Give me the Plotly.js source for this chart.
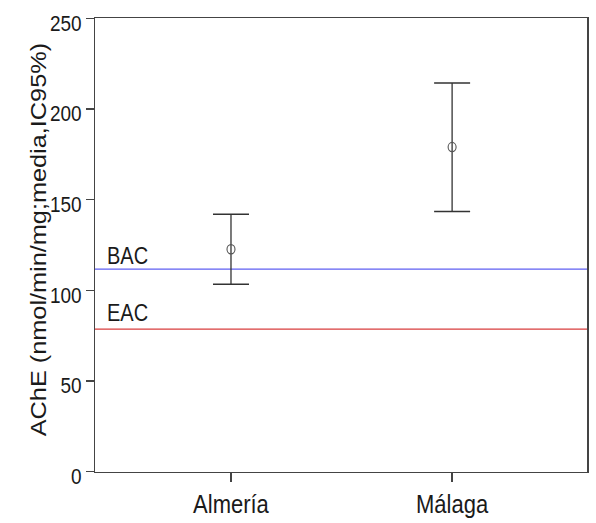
<!DOCTYPE html>
<html>
<head>
<meta charset="utf-8">
<script src="https://cdn.plot.ly/plotly-3.0.1.min.js"></script>
<style>
html,body{margin:0;padding:0;background:#fff;overflow:hidden;}
#wrap{width:596px;height:523px;overflow:hidden;}
#chart{width:596px;height:455px;transform:scaleY(1.15);transform-origin:0 0;}
</style>
</head>
<body>
<div id="wrap"><div id="chart"></div></div>
<script>
const categories = ["Almería", "Málaga"];
const means = [122.6, 179.0];
const upper = [142.0, 214.4];
const lower = [103.3, 143.4];
const refLabels = ["BAC", "EAC"];
const refValues = [111.7, 78.5];
const refColors = ["#5f5ff2", "#d83c3c"];
const yTicks = [0, 50, 100, 150, 200, 250];
const yTitle = "AChE (nmol/min/mg;media,IC95%)";

const FONT = "Liberation Sans, Arial, sans-serif";
const xIdx = categories.map((c, i) => i);
const trace = {
  x: xIdx,
  y: means,
  type: "scatter",
  mode: "markers",
  marker: {symbol: "circle-open", size: 8, color: "#555", line: {width: 1.1, color: "#555"}},
  error_y: {
    type: "data",
    symmetric: false,
    array: upper.map((u, i) => u - means[i]),
    arrayminus: means.map((m, i) => m - lower[i]),
    color: "#333",
    thickness: 1.3,
    width: 18
  },
  hoverinfo: "none",
  showlegend: false
};

const shapes = refValues.map((v, i) => ({
  type: "line", xref: "paper", x0: 0, x1: 1, yref: "y", y0: v, y1: v,
  line: {color: refColors[i], width: 1.1}, layer: "below"
}));

const labelShift = [-2, 1];
const annotations = refValues.map((v, i) => ({
  xref: "paper", x: 0.02, xanchor: "left", yref: "y", y: v, yanchor: "bottom", yshift: labelShift[i],
  text: refLabels[i], showarrow: false,
  font: {family: FONT, size: 20, color: "#1a1a1a"}
}));
annotations.push({
  xref: "paper", x: 0, xanchor: "right", xshift: -42,
  yref: "paper", y: 0.5, yanchor: "middle", yshift: 4,
  textangle: -90, text: yTitle, showarrow: false,
  font: {family: FONT, size: 22, color: "#1a1a1a"}
});

const layout = {
  width: 596, height: 455,
  margin: {l: 95, r: 9, t: 16, b: 45},
  paper_bgcolor: "#fff", plot_bgcolor: "#fff",
  font: {family: FONT, size: 20, color: "#1a1a1a"},
  xaxis: {
    range: [-0.615, 1.61],
    tickmode: "array", tickvals: xIdx, ticktext: categories,
    ticks: "outside", ticklen: 8, tickcolor: "#444", tickwidth: 1.3,
    showline: true, linecolor: "#444", linewidth: 1.5, mirror: true,
    showgrid: false, zeroline: false,
    tickfont: {size: 22, color: "#1a1a1a"}
  },
  yaxis: {
    range: [0, 250],
    tickmode: "array", tickvals: yTicks,
    ticks: "outside", ticklen: 8, tickcolor: "#444", tickwidth: 1.3,
    ticklabelshift: 4,
    showline: true, linecolor: "#444", linewidth: 1.5, mirror: true,
    showgrid: false, zeroline: false,
    tickfont: {size: 19, color: "#1a1a1a"}
  },
  shapes: shapes,
  annotations: annotations
};

Plotly.newPlot("chart", [trace], layout, {displayModeBar: false, staticPlot: true});
</script>
</body>
</html>
